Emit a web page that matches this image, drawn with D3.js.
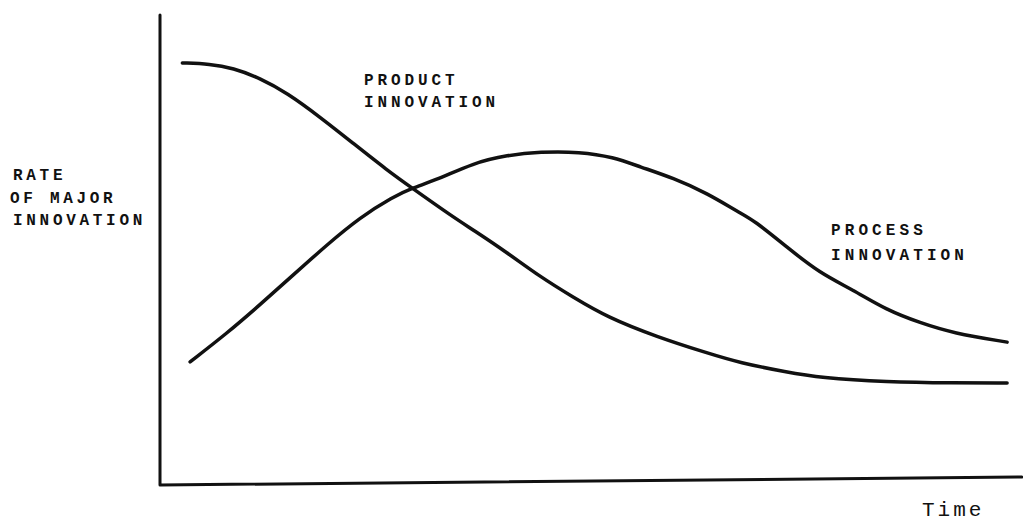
<!DOCTYPE html>
<html>
<head>
<meta charset="utf-8">
<script src="https://cdn.jsdelivr.net/npm/d3@7"></script>
<style>
  body { margin: 0; background: #fff; }
  .lbl { font-family: "Liberation Mono", monospace; fill: #111; font-weight: bold; }
  .xlbl { font-family: "Liberation Mono", monospace; fill: #111; font-weight: normal; }
</style>
</head>
<body>
<div id="chart"></div>
<script>
var svgWidth = 1023;
var svgHeight = 525;

// time (0-10) and rate (0-10)
var productTime = [0.26, 0.58, 0.85, 1.16, 1.48, 1.86, 2.24, 2.64, 2.93, 3.41, 3.64, 4.04, 4.42, 4.80, 5.20, 5.78, 6.36, 6.74, 7.29, 7.67, 8.45, 9.22, 9.85];
var productRate = [8.98, 8.96, 8.87, 8.66, 8.34, 7.83, 7.28, 6.70, 6.32, 5.70, 5.43, 4.94, 4.43, 4.00, 3.57, 3.15, 2.81, 2.60, 2.40, 2.28, 2.19, 2.17, 2.17];

var processTime = [0.35, 0.78, 1.16, 1.55, 1.94, 2.33, 2.71, 2.93, 3.22, 3.64, 4.04, 4.42, 4.88, 5.27, 5.58, 5.97, 6.36, 6.74, 6.90, 7.29, 7.67, 8.06, 8.45, 8.84, 9.22, 9.85];
var processRate = [2.62, 3.23, 3.83, 4.47, 5.11, 5.70, 6.13, 6.32, 6.49, 6.85, 7.02, 7.09, 7.09, 6.98, 6.77, 6.53, 6.21, 5.79, 5.64, 5.06, 4.51, 4.15, 3.72, 3.45, 3.23, 3.04];

var yLabel = ["RATE", "OF MAJOR", "INNOVATION"];
var productLabel = ["PRODUCT", "INNOVATION"];
var processLabel = ["PROCESS", "INNOVATION"];
var xLabel = "Time";

var svg = d3.select("#chart")
  .append("svg")
  .attr("width", svgWidth)
  .attr("height", svgHeight);

var x = d3.scaleLinear().domain([0, 10]).range([160, 1020]);
var y = d3.scaleLinear().domain([0, 10]).range([485, 15]);

// axes (hand drawn, the x axis rises a little toward the right)
svg.append("path")
  .attr("d", `M${x(0)},${y(10)} L${x(0)},${y(0)} L${x(10.02)},${y(0.17)}`)
  .attr("fill", "none")
  .attr("stroke", "#111")
  .attr("stroke-width", 3)
  .attr("stroke-linejoin", "round")
  .attr("stroke-linecap", "round");

var line = d3.line()
  .x(d => x(d[0]))
  .y(d => y(d[1]))
  .curve(d3.curveBasis);

svg.append("path")
  .datum(d3.zip(productTime, productRate))
  .attr("d", line)
  .attr("fill", "none")
  .attr("stroke", "#111")
  .attr("stroke-width", 3.5)
  .attr("stroke-linecap", "round");

svg.append("path")
  .datum(d3.zip(processTime, processRate))
  .attr("d", line)
  .attr("fill", "none")
  .attr("stroke", "#111")
  .attr("stroke-width", 3.5)
  .attr("stroke-linecap", "round");

function block(lines, px, py, gap, size, spacing, xs) {
  lines.forEach((t, i) => {
    svg.append("text")
      .attr("class", "lbl")
      .attr("x", px + (xs ? xs[i] : 0))
      .attr("y", py + i * gap)
      .attr("font-size", size)
      .attr("letter-spacing", spacing)
      .text(t);
  });
}

block(yLabel, 12, 180, 22.5, 16, 3.7, [1, -2, 1]);
block(productLabel, 364, 85, 22, 16, 3.9);
block(processLabel, 831, 235, 25, 16, 4.1);

svg.append("text")
  .attr("class", "xlbl")
  .attr("x", 922)
  .attr("y", 516)
  .attr("font-size", 21)
  .attr("letter-spacing", 3)
  .text(xLabel);
</script>
</body>
</html>
